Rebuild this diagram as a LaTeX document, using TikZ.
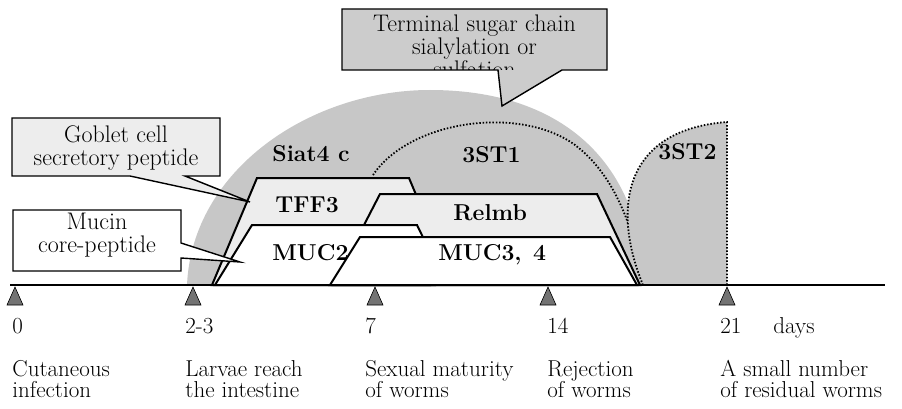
\documentclass[tikz,border=0pt]{standalone}
\usepackage{fontspec}
\usepackage{tikz}
\usetikzlibrary{positioning}
\definecolor{domegray}{gray}{0.78}
\definecolor{boxgray}{gray}{0.80}
\definecolor{lightdot}{gray}{0.93}
\definecolor{tickgray}{gray}{0.45}

\begin{document}
\begin{tikzpicture}[x=1pt,y=-1pt,thick]
\tikzset{
    band/.style      = {draw=black, line width=2pt, line join=miter},
    bandlabel/.style = {anchor=base west, inner sep=0pt, font=\bfseries\fontsize{23}{23}\selectfont},
    dottedarc/.style = {draw=black, line width=1.8pt, dash pattern=on 1.5pt off 1.8pt},
    callout/.style   = {draw=black, line width=1.4pt, line join=miter},
    calltext/.style  = {align=center, anchor=base, inner sep=0pt, font=\fontsize{24}{23}\selectfont},
    tickmark/.style  = {draw=black, line width=0.6pt, fill=tickgray},
    daylabel/.style  = {anchor=base west, inner sep=0pt, font=\fontsize{23}{21}\selectfont},
    eventlabel/.style= {align=left, anchor=base west, inner sep=0pt, font=\fontsize{23}{21}\selectfont}
}
\useasboundingbox (0,0) rectangle (902,409);

% glycosyltransferase domes
\fill[domegray] (187,285) .. controls (192,170) and (310,90) .. (430,90)
   .. controls (560,90) and (640,160) .. (645,285) -- cycle;
\fill[domegray] (373,175) .. controls (410,120) and (520,105) .. (575,145)
   .. controls (615,175) and (635,230) .. (643,285) -- (373,285) -- cycle;
\draw[dottedarc] (373,175) .. controls (410,120) and (520,105) .. (575,145)
   .. controls (615,175) and (635,230) .. (643,285);
\fill[domegray] (643,285) .. controls (612,210) and (622,130) .. (727,122) -- (727,285) -- cycle;
\draw[dottedarc] (643,285) .. controls (612,210) and (622,130) .. (727,122) -- (727,285);

% peptide bands, back to front
\filldraw[band, fill=lightdot] (212,285) -- (257,178) -- (409,178) -- (430,228) -- (430,285) -- cycle;
\filldraw[band, fill=lightdot] (333,285) -- (380,194) -- (597,194) -- (640,285) -- cycle;
\filldraw[band, fill=white] (215,285) -- (252,225) -- (417,225) -- (435,262) -- (435,285) -- cycle;
\filldraw[band, fill=white] (330,285) -- (360,237) -- (610,237) -- (637,285) -- cycle;

\node[bandlabel] (siat) at (272,161) {Siat4 c};
\node[bandlabel] (st1)  at (462,163) {3ST1};
\node[bandlabel] (st2)  at (658,160) {3ST2};
\node[bandlabel] (tff)  at (275,212) {TFF3};
\node[bandlabel] (relm) at (453,220) {Relmb};
\node[bandlabel] (muc2) at (272,260) {MUC2};
\node[bandlabel] (muc3) at (438,260) {MUC3,\enspace4};

% callouts
\coordinate (terminal tip) at (502,106);
\coordinate (goblet tip) at (250,202);
\coordinate (mucin tip) at (240,262);
\filldraw[callout, fill=boxgray] (342,9) -- (607,9) -- (607,70) -- (562,70) -- (terminal tip)
   -- (498,70) -- (342,70) -- cycle;
\begin{scope}
  \clip (343,10) rectangle (606,69.2);
  \node[calltext] (terminal) at (474.5,78) {Terminal sugar chain\\sialylation or\\sulfation};
\end{scope}
\filldraw[callout, fill=lightdot] (12,118) -- (220,118) -- (220,176) -- (185,176) -- (goblet tip)
   -- (130,176) -- (12,176) -- cycle;
\node[calltext] (goblet) at (116,165) {Goblet cell\\secretory peptide};
\filldraw[callout, fill=white] (13,210) -- (181,210) -- (181,243) -- (mucin tip) -- (181,258)
   -- (181,271) -- (13,271) -- cycle;
\node[calltext] (mucin) at (97,252) {Mucin\\core-peptide};

% time axis
\draw[line width=2pt] (10,285) -- (885,285);
\foreach \t/\x/\day/\event [count=\i] in {15/12/0/{Cutaneous\\infection},
    193/185/2-3/{Larvae reach\\the intestine}, 375/365/7/{Sexual maturity\\of worms},
    548/547/14/{Rejection\\of worms}, 727/720/21/{A small number\\of residual worms}}
{
  \filldraw[tickmark] (\t,287) -- ++(-8,18) -- ++(16,0) -- cycle;
  \node[daylabel] (day\i) at (\x,333) {\day};
  \node[eventlabel] (event\i) at (\x,397) {\event};
}
\node[daylabel] (days) at (773,333) {days};
\end{tikzpicture}
\end{document}
